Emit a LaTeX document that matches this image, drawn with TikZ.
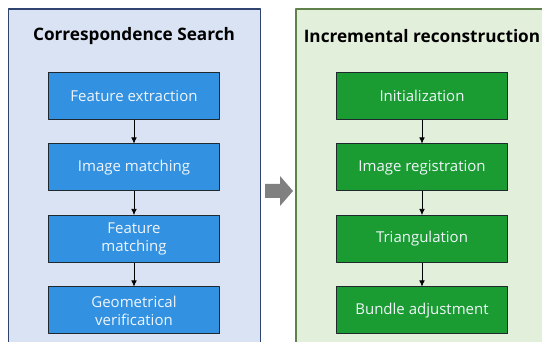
\documentclass[tikz,border=0pt]{standalone}
\usepackage{fontspec}
\setmainfont{Open Sans}[BoldFont={Open Sans Bold}]
\usetikzlibrary{arrows.meta,positioning}
\definecolor{csback}{RGB}{218,227,243}
\definecolor{csframe}{RGB}{47,68,110}
\definecolor{csblue}{RGB}{50,145,225}
\definecolor{irback}{RGB}{226,239,218}
\definecolor{irframe}{RGB}{96,128,76}
\definecolor{irgreen}{RGB}{26,156,50}
\definecolor{boxline}{RGB}{30,40,45}
\definecolor{textwhite}{RGB}{240,245,250}

\tikzset{
  title/.style={font=\fontsize{17.2}{20}\selectfont\bfseries,inner sep=0pt},
  stage/.style={draw=boxline,line width=1pt,minimum width=171pt,minimum height=47pt,
    inner sep=0pt,align=center,text=textwhite,font=\fontsize{15}{18}\selectfont},
  csbox/.style={stage,fill=csblue},
  irbox/.style={stage,fill=irgreen},
  flow/.style={-{Latex[length=6pt,width=5.5pt]},line width=0.6pt}
}

\begin{document}
\begin{tikzpicture}[x=1pt,y=-1pt,line join=round,node distance=23.5pt]
  \clip (0,0) rectangle (542,342);
  \fill[white] (0,0) rectangle (542,342);
  % panels
  \draw[fill=csback,draw=csframe,line width=1.2pt] (8.5,9) rectangle (260.5,360);
  \draw[fill=irback,draw=irframe,line width=1.2pt] (296,9) rectangle (560,360);
  % correspondence search
  \node[title] (cstitle) at (134,36) {Correspondence Search};
  \node[csbox] (fe) at (134,96) {Feature extraction};
  \node[csbox,below=of fe] (im) {Image matching};
  \node[csbox,below=of im] (fm) {Feature\\matching};
  \node[csbox,below=of fm] (gv) {Geometrical\\verification};
  \foreach \a/\b in {fe/im,im/fm,fm/gv} \draw[flow] (\a) -- (\b);
  % incremental reconstruction
  \node[title] (irtitle) at (422,36) {Incremental reconstruction};
  \node[irbox] (init) at (422,96) {Initialization};
  \node[irbox,below=of init] (reg) {Image registration};
  \node[irbox,below=of reg] (tri) {Triangulation};
  \node[irbox,below=of tri] (ba) {Bundle adjustment};
  \foreach \a/\b in {init/reg,reg/tri,tri/ba} \draw[flow] (\a) -- (\b);
  % big arrow
  \fill[gray] (265,184) -- (280,184) -- (280,176) -- (293,191) -- (280,206) -- (280,198) -- (265,198) -- cycle;
\end{tikzpicture}
\end{document}
